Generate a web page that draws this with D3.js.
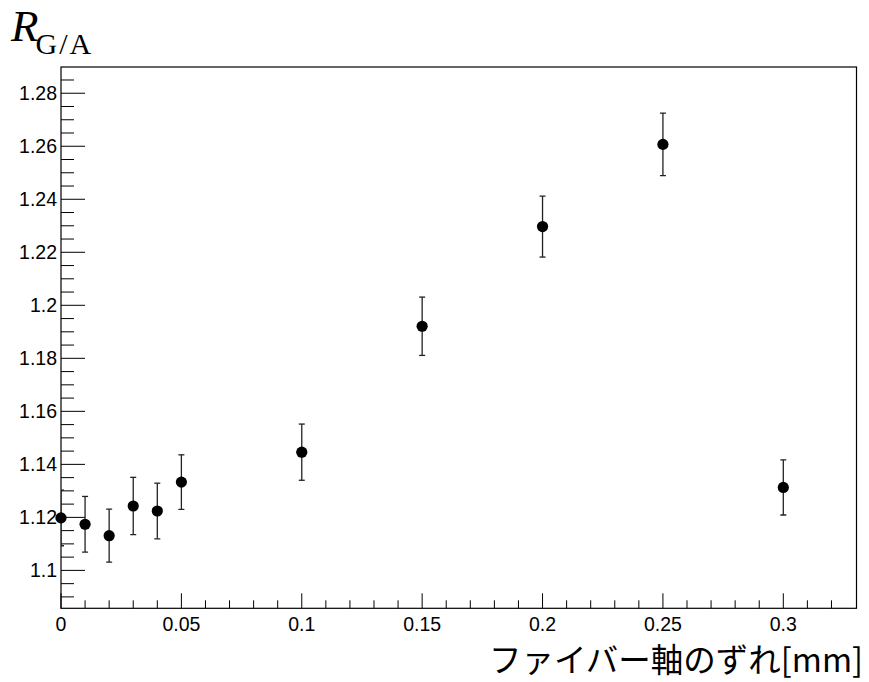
<!DOCTYPE html>
<html>
<head>
<meta charset="utf-8">
<script src="https://cdn.jsdelivr.net/npm/d3@7"></script>
<style>
  html, body { margin: 0; padding: 0; background: #fff; }
  svg { display: block; }
</style>
</head>
<body>
<svg id="chart" width="869" height="682"></svg>
<script>
// ---- data ----
const xValues  = [0, 0.01, 0.02, 0.03, 0.04, 0.05, 0.10, 0.15, 0.20, 0.25, 0.30];
const yValues  = [1.1198, 1.1174, 1.1131, 1.1243, 1.1224, 1.1333, 1.1446, 1.1921, 1.2297, 1.2607, 1.1313];
const yErrors  = [0.0105, 0.0105, 0.0100, 0.0108, 0.0105, 0.0103, 0.0106, 0.0110, 0.0115, 0.0118, 0.0104];
const xTickLabels = ["0", "0.05", "0.1", "0.15", "0.2", "0.25", "0.3"];
const yTickLabels = ["1.1", "1.12", "1.14", "1.16", "1.18", "1.2", "1.22", "1.24", "1.26", "1.28"];
const xTitle = "ファイバー軸のずれ[mm]";

// ---- layout ----
const svg = d3.select("#chart");
const mLeft = 61, mRight = 856.5, mTop = 67, mBottom = 608.3;

const x = d3.scaleLinear().domain([0, 0.3304]).range([mLeft, mRight]);
const y = d3.scaleLinear().domain([1.0857, 1.2899]).range([mBottom, mTop]);

const tickFont = "'Liberation Sans', Arial, Helvetica, sans-serif";

svg.append("defs").append("clipPath").attr("id", "frameClip")
  .append("rect")
  .attr("x", mLeft).attr("y", mTop)
  .attr("width", mRight - mLeft).attr("height", mBottom - mTop);

// frame
svg.append("rect")
  .attr("x", mLeft).attr("y", mTop)
  .attr("width", mRight - mLeft).attr("height", mBottom - mTop)
  .attr("fill", "none").attr("stroke", "#000").attr("stroke-width", 1.2);

// x ticks (inward)
const xMajor = xTickLabels.map(Number);
const xMinor = d3.range(0, 33).map(i => i / 100).filter(v => x(v) < mRight - 1);
svg.append("g").selectAll("line").data(xMinor).join("line")
  .attr("x1", d => x(d)).attr("x2", d => x(d))
  .attr("y1", mBottom).attr("y2", d => xMajor.some(m => Math.abs(m - d) < 1e-9) ? mBottom - 15 : mBottom - 8)
  .attr("stroke", "#000").attr("stroke-width", 1);
svg.append("g").selectAll("text").data(xTickLabels).join("text")
  .attr("x", d => x(+d)).attr("y", 631)
  .attr("text-anchor", "middle")
  .attr("font-family", tickFont).attr("font-size", 19.5)
  .attr("fill", "#000")
  .text(d => d);

// y ticks (inward)
const yMajor = yTickLabels.map(Number);
const yMinor = d3.range(0, 42).map(i => 1.085 + i * 0.005).filter(v => y(v) > mTop + 1 && y(v) < mBottom - 1);
svg.append("g").selectAll("line").data(yMinor).join("line")
  .attr("y1", d => y(d)).attr("y2", d => y(d))
  .attr("x1", mLeft).attr("x2", d => yMajor.some(m => Math.abs(m - d) < 1e-9) ? mLeft + 24 : mLeft + 13)
  .attr("stroke", "#000").attr("stroke-width", 1);
svg.append("g").selectAll("text").data(yTickLabels).join("text")
  .attr("x", 57).attr("y", d => y(+d))
  .attr("dy", "0.36em")
  .attr("text-anchor", "end")
  .attr("font-family", tickFont).attr("font-size", 19.5)
  .attr("fill", "#000")
  .text(d => d);

// error bars
const pts = xValues.map((v, i) => ({x: v, y: yValues[i], e: yErrors[i]}));
const eb = svg.append("g").attr("clip-path", "url(#frameClip)")
  .attr("stroke", "#222").attr("stroke-width", 1.3);
eb.selectAll("line.v").data(pts).join("line").attr("class", "v")
  .attr("x1", d => x(d.x)).attr("x2", d => x(d.x))
  .attr("y1", d => y(d.y - d.e)).attr("y2", d => y(d.y + d.e));
eb.selectAll("line.t").data(pts).join("line").attr("class", "t")
  .attr("x1", d => x(d.x) - 3).attr("x2", d => x(d.x) + 3)
  .attr("y1", d => y(d.y + d.e)).attr("y2", d => y(d.y + d.e));
eb.selectAll("line.b").data(pts).join("line").attr("class", "b")
  .attr("x1", d => x(d.x) - 3).attr("x2", d => x(d.x) + 3)
  .attr("y1", d => y(d.y - d.e)).attr("y2", d => y(d.y - d.e));

// markers
svg.append("g").selectAll("circle").data(pts).join("circle")
  .attr("cx", d => x(d.x)).attr("cy", d => y(d.y))
  .attr("r", 5.6).attr("fill", "#000");

// y title
const t = svg.append("text")
  .attr("x", 11).attr("y", 41)
  .attr("font-family", "'Liberation Serif', 'Times New Roman', serif")
  .attr("fill", "#000");
t.append("tspan").attr("font-style", "italic").attr("font-size", 45).text("R");
t.append("tspan").attr("font-size", 30).attr("dx", -3).attr("dy", 13).attr("letter-spacing", 2).text("G/A");

// x title
svg.append("text")
  .attr("x", 863).attr("y", 672)
  .attr("text-anchor", "end")
  .attr("font-family", "'Noto Sans CJK JP', 'Noto Sans', sans-serif")
  .attr("font-size", 32.5)
  .attr("fill", "#000")
  .text(xTitle);
</script>
</body>
</html>
